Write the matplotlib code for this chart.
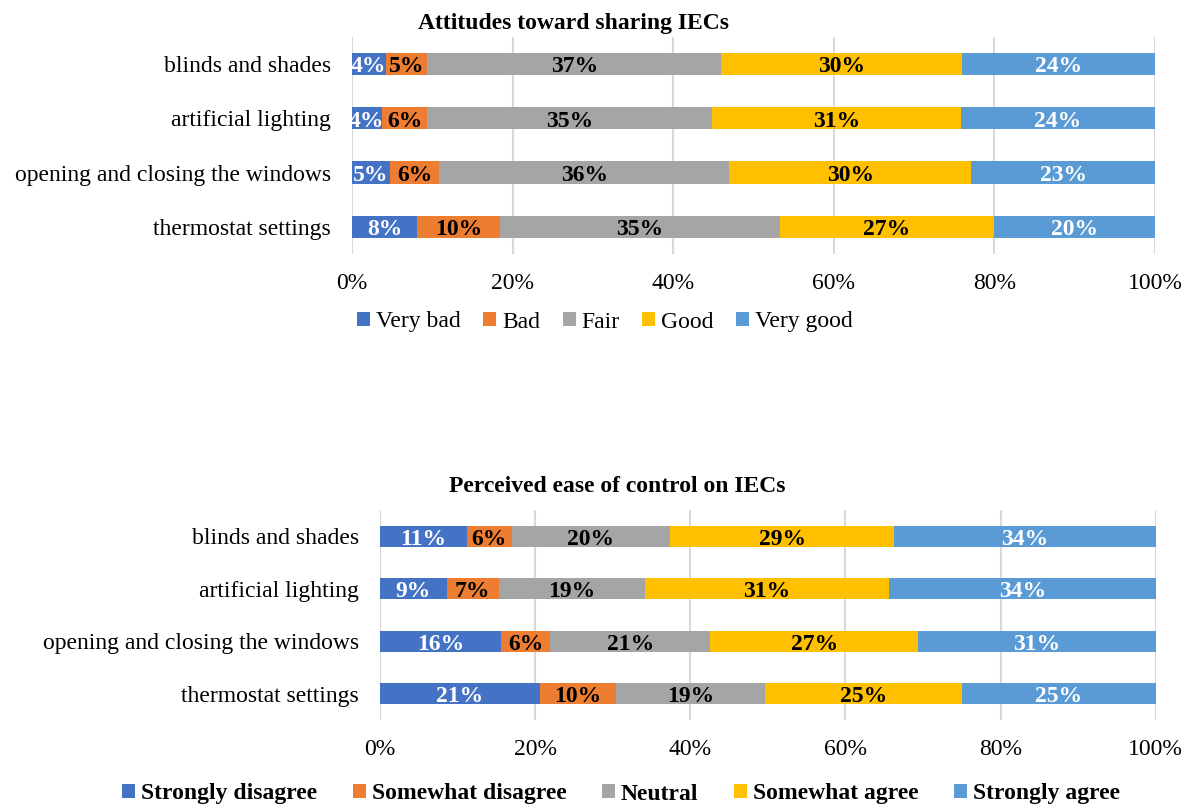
'''
Two stacked 100% bar charts on IEC attitudes and perceived ease of control.
'''

import matplotlib
matplotlib.use("Agg")
import matplotlib.pyplot as plt
from matplotlib.patches import Patch


CATEGORIES = ["blinds and shades", "artificial lighting",
              "opening and closing the windows", "thermostat settings"]

# attitudes toward sharing (percent)
SHARE_LEVELS = ["Very bad", "Bad", "Fair", "Good", "Very good"]
SHARE_VERY_BAD = [4.2, 3.7, 4.7, 8.1]
SHARE_BAD = [5.2, 5.7, 6.2, 10.3]
SHARE_FAIR = [36.6, 35.4, 36.1, 34.9]
SHARE_GOOD = [30.0, 31.0, 30.1, 26.6]
SHARE_VERY_GOOD = [24.0, 24.2, 22.9, 20.1]

# perceived ease of control (percent)
EASE_LEVELS = ["Strongly disagree", "Somewhat disagree", "Neutral",
               "Somewhat agree", "Strongly agree"]
EASE_STRONG_DIS = [11.2, 8.6, 15.6, 20.6]
EASE_SOME_DIS = [5.8, 6.7, 6.3, 9.8]
EASE_NEUTRAL = [20.4, 18.9, 20.7, 19.2]
EASE_SOME_AGREE = [28.9, 31.4, 26.8, 25.4]
EASE_STRONG_AGREE = [33.7, 34.4, 30.6, 25.0]

XTICKS = [0, 20, 40, 60, 80, 100]

COLOURS = ["#4472C4", "#ED7D31", "#A5A5A5", "#FFC000", "#5B9BD5"]
TEXT_COLOURS = ["white", "black", "black", "black", "white"]
FONT = "Liberation Serif"
FS = 17


def plot_stack(ax, series, levels, bar_h):
    ypos = list(range(len(CATEGORIES)))
    left = [0.0] * len(CATEGORIES)
    for i, vals in enumerate(series):
        ax.barh(ypos, vals, left=left, height=bar_h, color=COLOURS[i],
                label=levels[i], zorder=3)
        for y, l, v in zip(ypos, left, vals):
            ax.annotate(f"{v:.0f}%", (l + v / 2, y), xytext=(0, -2),
                        textcoords="offset points", ha="center", va="center",
                        color=TEXT_COLOURS[i], fontsize=FS, fontweight="bold",
                        family=FONT, zorder=4)
        left = [a + b for a, b in zip(left, vals)]
    ax.set_xlim(0, 100)
    ax.set_ylim(len(CATEGORIES) - 0.5, -0.5)
    ax.set_yticks(ypos)
    ax.set_yticklabels(CATEGORIES, family=FONT, fontsize=FS)
    ax.set_xticks(XTICKS)
    ax.set_xticklabels([f"{t}%" for t in XTICKS], family=FONT, fontsize=FS)
    ax.tick_params(axis="y", length=0, pad=15)
    ax.tick_params(axis="x", length=0, pad=14)
    ax.grid(axis="x", color="#D9D9D9", linewidth=1.5, zorder=0)
    for s in ax.spines.values():
        s.set_visible(False)


def legend_handles(levels):
    return [Patch(facecolor=COLOURS[i], label=levels[i]) for i in range(len(levels))]


def main():
    fig = plt.figure(figsize=(11.85, 8.06), dpi=100)

    ax1 = fig.add_axes([0.297, 0.685, 0.6777, 0.269])
    plot_stack(ax1, [SHARE_VERY_BAD, SHARE_BAD, SHARE_FAIR, SHARE_GOOD, SHARE_VERY_GOOD],
               SHARE_LEVELS, 0.41)
    fig.text(573 / 1185, 1 - 24 / 806, "Attitudes toward sharing IECs", ha="center",
             va="center", family=FONT, fontsize=FS, fontweight="bold")
    fig.legend(handles=legend_handles(SHARE_LEVELS), loc="center",
               bbox_to_anchor=(605 / 1185, 1 - 322 / 806), ncol=5, frameon=False,
               prop={"family": FONT, "size": FS}, handlelength=0.55, handleheight=0.55,
               handletextpad=0.25, columnspacing=0.95)

    ax2 = fig.add_axes([0.3207, 0.1067, 0.6546, 0.2605])
    plot_stack(ax2, [EASE_STRONG_DIS, EASE_SOME_DIS, EASE_NEUTRAL, EASE_SOME_AGREE,
                     EASE_STRONG_AGREE], EASE_LEVELS, 0.4)
    fig.text(617 / 1185, 1 - 487 / 806, "Perceived ease of control on IECs", ha="center",
             va="center", family=FONT, fontsize=FS, fontweight="bold")
    fig.legend(handles=legend_handles(EASE_LEVELS), loc="center",
               bbox_to_anchor=(621 / 1185, 1 - 794 / 806), ncol=5, frameon=False,
               prop={"family": FONT, "size": FS, "weight": "bold"}, handlelength=0.55,
               handleheight=0.55, handletextpad=0.25, columnspacing=1.5)

    fig.savefig("out.png", dpi=100)


if __name__ == "__main__":
    main()
